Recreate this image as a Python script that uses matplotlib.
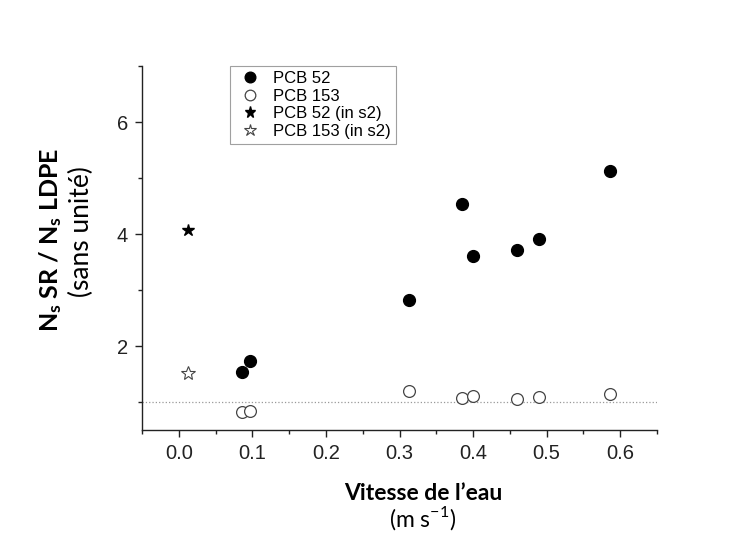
import matplotlib
matplotlib.use('Agg')
import matplotlib.pyplot as plt
from matplotlib.ticker import MultipleLocator

plt.rcParams['font.family'] = ['Liberation Sans', 'DejaVu Sans']
plt.rcParams['mathtext.fontset'] = 'custom'
plt.rcParams['mathtext.rm'] = 'Lato'
plt.rcParams['mathtext.bf'] = 'Lato:bold'

# water velocity (m/s) and ratio Ns SR / Ns LDPE
speed = [0.0864, 0.0972, 0.313, 0.3846, 0.3995, 0.460, 0.489, 0.5855]
pcb52 = [1.54, 1.73, 2.82, 4.53, 3.61, 3.72, 3.91, 5.13]
pcb153 = [0.82, 0.845, 1.20, 1.08, 1.10, 1.05, 1.095, 1.14]

s2_speed = [0.0126]
pcb52_s2 = [4.08]
pcb153_s2 = [1.51]

xticks = [0.0, 0.1, 0.2, 0.3, 0.4, 0.5, 0.6]
xticklabels = ['0.0', '0.1', '0.2', '0.3', '0.4', '0.5', '0.6']
yticks = [2, 4, 6]

fig = plt.figure(figsize=(7.44, 5.38), dpi=100)
ax = fig.add_axes([0.1909, 0.2007, 0.6922, 0.6766])

ax.axhline(1, color='#999999', linestyle=':', linewidth=0.9, zorder=1)

ax.plot(speed, pcb52, 'o', color='black', markersize=8.5, label='PCB 52', zorder=3)
ax.plot(speed, pcb153, 'o', markerfacecolor='white', markeredgecolor='#444444',
        markeredgewidth=0.9, markersize=8.5, label='PCB 153', zorder=3)
ax.plot(s2_speed, pcb52_s2, '*', color='black', markersize=9, label='PCB 52 (in s2)', zorder=3)
ax.plot(s2_speed, pcb153_s2, '*', markerfacecolor='white', markeredgecolor='#444444',
        markeredgewidth=0.8, markersize=10, label='PCB 153 (in s2)', zorder=3)

ax.set_xlim(-0.05, 0.65)
ax.set_ylim(0.5, 7)
ax.xaxis.set_minor_locator(MultipleLocator(0.05))
ax.yaxis.set_minor_locator(MultipleLocator(1))
ax.set_xticks(xticks)
ax.set_xticklabels(xticklabels)
ax.set_yticks(yticks)

for side in ['top', 'right']:
    ax.spines[side].set_visible(False)
for side in ['left', 'bottom']:
    ax.spines[side].set_color('#222222')
    ax.spines[side].set_linewidth(1.0)
ax.tick_params(which='major', direction='out', length=5, width=1, labelsize=14.5,
               colors='#222222', pad=5)
ax.tick_params(which='minor', direction='out', length=3, width=1, colors='#222222')

leg = ax.legend(loc='upper left', bbox_to_anchor=(0.171, 1.0), borderaxespad=0,
                fontsize=12, frameon=True, fancybox=False, edgecolor='#888888',
                handletextpad=0.5, labelspacing=0.15, borderpad=0.3,
                handlelength=1.8, markerscale=0.9)
leg.get_frame().set_linewidth(0.8)

# axis titles
fig.text(0.0685, 0.554, r'$\mathbf{N_s}$ SR / $\mathbf{N_s}$ LDPE', rotation=90,
         ha='center', va='center', fontsize=18, fontweight='bold', family='Lato')
fig.text(0.110, 0.569, '(sans unité)', rotation=90, ha='center', va='center',
         fontsize=19, family='Lato')
fig.text(0.5685, 0.0836, 'Vitesse de l\u2019eau', ha='center', va='center',
         fontsize=16.5, fontweight='bold', family='Lato')
fig.text(0.5685, 0.012, r'(m s$^{-1}$)', ha='center', va='bottom',
         fontsize=16.5, family='Lato')

fig.savefig('out.png', dpi=100)
